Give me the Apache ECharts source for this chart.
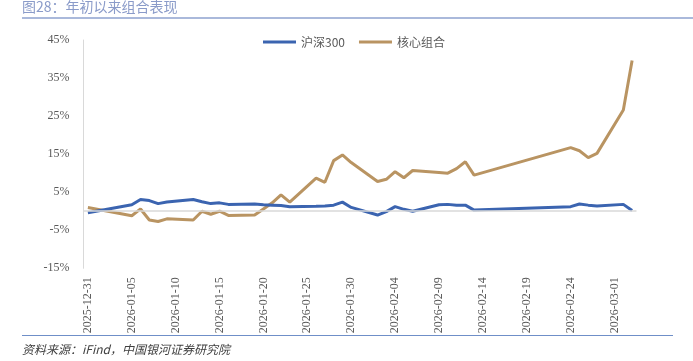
<!DOCTYPE html>
<html>
<head>
<meta charset="utf-8">
<script src="https://cdn.jsdelivr.net/npm/echarts@6/dist/echarts.min.js"></script>
<style>
html,body{margin:0;padding:0;background:#fff;}
#chart{width:693px;height:361px;}
</style>
</head>
<body>
<div id="chart"></div>
<script>
// ---- data ----
var startDate = '2025-12-31';
var endDate = '2026-03-03';
var tradeDates = [
  '2025-12-31','2026-01-05','2026-01-06','2026-01-07','2026-01-08','2026-01-09',
  '2026-01-12','2026-01-13','2026-01-14','2026-01-15','2026-01-16',
  '2026-01-19','2026-01-20','2026-01-21','2026-01-22','2026-01-23',
  '2026-01-26','2026-01-27','2026-01-28','2026-01-29','2026-01-30',
  '2026-02-02','2026-02-03','2026-02-04','2026-02-05','2026-02-06',
  '2026-02-09','2026-02-10','2026-02-11','2026-02-12','2026-02-13',
  '2026-02-24','2026-02-25','2026-02-26','2026-02-27',
  '2026-03-02','2026-03-03'
];
var hs300 = [
  -0.4, 1.7, 3.1, 2.8, 2.0, 2.4,
  3.1, 2.5, 2.0, 2.2, 1.8,
  1.9, 1.7, 1.6, 1.5, 1.2,
  1.3, 1.4, 1.6, 2.4, 1.0,
  -1.0, -0.1, 1.2, 0.5, 0.0,
  1.7, 1.8, 1.6, 1.6, 0.3,
  1.2, 1.9, 1.6, 1.4,
  1.8, 0.2
];
var core = [
  1.0, -1.2, 0.6, -2.3, -2.7, -2.0,
  -2.3, 0.0, -0.8, 0.0, -1.1,
  -1.0, 0.6, 2.2, 4.3, 2.4,
  8.7, 7.6, 13.3, 14.8, 12.8,
  7.8, 8.4, 10.4, 8.8, 10.7,
  10.2, 10.0, 11.2, 13.0, 9.5,
  16.7, 15.9, 14.1, 15.2,
  26.6, 39.6
];
var seriesNames = ['沪深300', '核心组合'];
var yTicks = {min: -15, max: 45, interval: 10};

// calendar-day categories for the date axis
function pad(n){return (n<10?'0':'')+n;}
var calendarDays = [];
(function(){
  var d = new Date(startDate + 'T00:00:00Z');
  var e = new Date(endDate + 'T00:00:00Z');
  while (d <= e) {
    calendarDays.push(d.getUTCFullYear()+'-'+pad(d.getUTCMonth()+1)+'-'+pad(d.getUTCDate()));
    d = new Date(d.getTime() + 86400000);
  }
})();

function pairs(vals){
  return tradeDates.map(function(t,i){return [t, vals[i]];});
}

var chart = echarts.init(document.getElementById('chart'), null, {renderer:'canvas'});
var serif = '"Liberation Serif", "Times New Roman", serif';
var cjk = '"Noto Sans CJK SC", "Noto Sans", sans-serif';

chart.setOption({
  backgroundColor: '#ffffff',
  animation: false,
  grid: {left: 83.5, right: 56.5, top: 40, bottom: 92.7, containLabel: false},
  legend: {
    top: 31,
    left: 258,
    icon: 'rect',
    itemWidth: 33,
    itemHeight: 3,
    itemGap: 14,
    textStyle: {fontFamily: cjk, fontSize: 12, color: '#595959'},
    data: seriesNames
  },
  xAxis: {
    type: 'category',
    data: calendarDays,
    boundaryGap: true,
    axisLine: {show: false},
    axisTick: {show: false},
    axisLabel: {
      interval: 4,
      rotate: 90,
      margin: 9,
      fontFamily: serif,
      fontSize: 12,
      color: '#595959'
    },
    splitLine: {show: false}
  },
  yAxis: {
    type: 'value',
    min: yTicks.min,
    max: yTicks.max,
    interval: yTicks.interval,
    axisLine: {show: true, lineStyle: {color: '#d9d9d9', width: 1}},
    axisTick: {show: false},
    splitLine: {show: false},
    axisLabel: {
      formatter: '{value}%',
      margin: 14,
      fontFamily: serif,
      fontSize: 12,
      color: '#595959'
    }
  },
  series: [
    {
      name: seriesNames[0],
      type: 'line',
      data: pairs(hs300),
      showSymbol: false,
      symbol: 'none',
      lineStyle: {color: '#3b64b0', width: 3},
      itemStyle: {color: '#3b64b0'},
      z: 3,
      markLine: {
        silent: true,
        symbol: ['none','none'],
        label: {show: false},
        lineStyle: {color: '#d9d9d9', width: 1.5, type: 'solid'},
        data: [{yAxis: 0}]
      }
    },
    {
      name: seriesNames[1],
      type: 'line',
      data: pairs(core),
      showSymbol: false,
      symbol: 'none',
      lineStyle: {color: '#b99462', width: 3},
      itemStyle: {color: '#b99462'},
      z: 2
    }
  ],
  graphic: [
    {
      type: 'text', left: 22, top: 0,
      style: {text: '图28：年初以来组合表现', font: '14px ' + cjk, fill: '#8a9bc9'}
    },
    {
      type: 'line', shape: {x1: 22, y1: 18, x2: 693, y2: 18},
      style: {stroke: '#8ea2cf', lineWidth: 1.5}
    },
    {
      type: 'line', shape: {x1: 22, y1: 335.5, x2: 673, y2: 335.5},
      style: {stroke: '#6f8fc8', lineWidth: 1.2}
    },
    {
      type: 'text', left: 22, top: 343,
      style: {text: '资料来源：iFind，中国银河证券研究院', font: 'italic 12px ' + cjk, fill: '#404040'}
    }
  ]
});
</script>
</body>
</html>
